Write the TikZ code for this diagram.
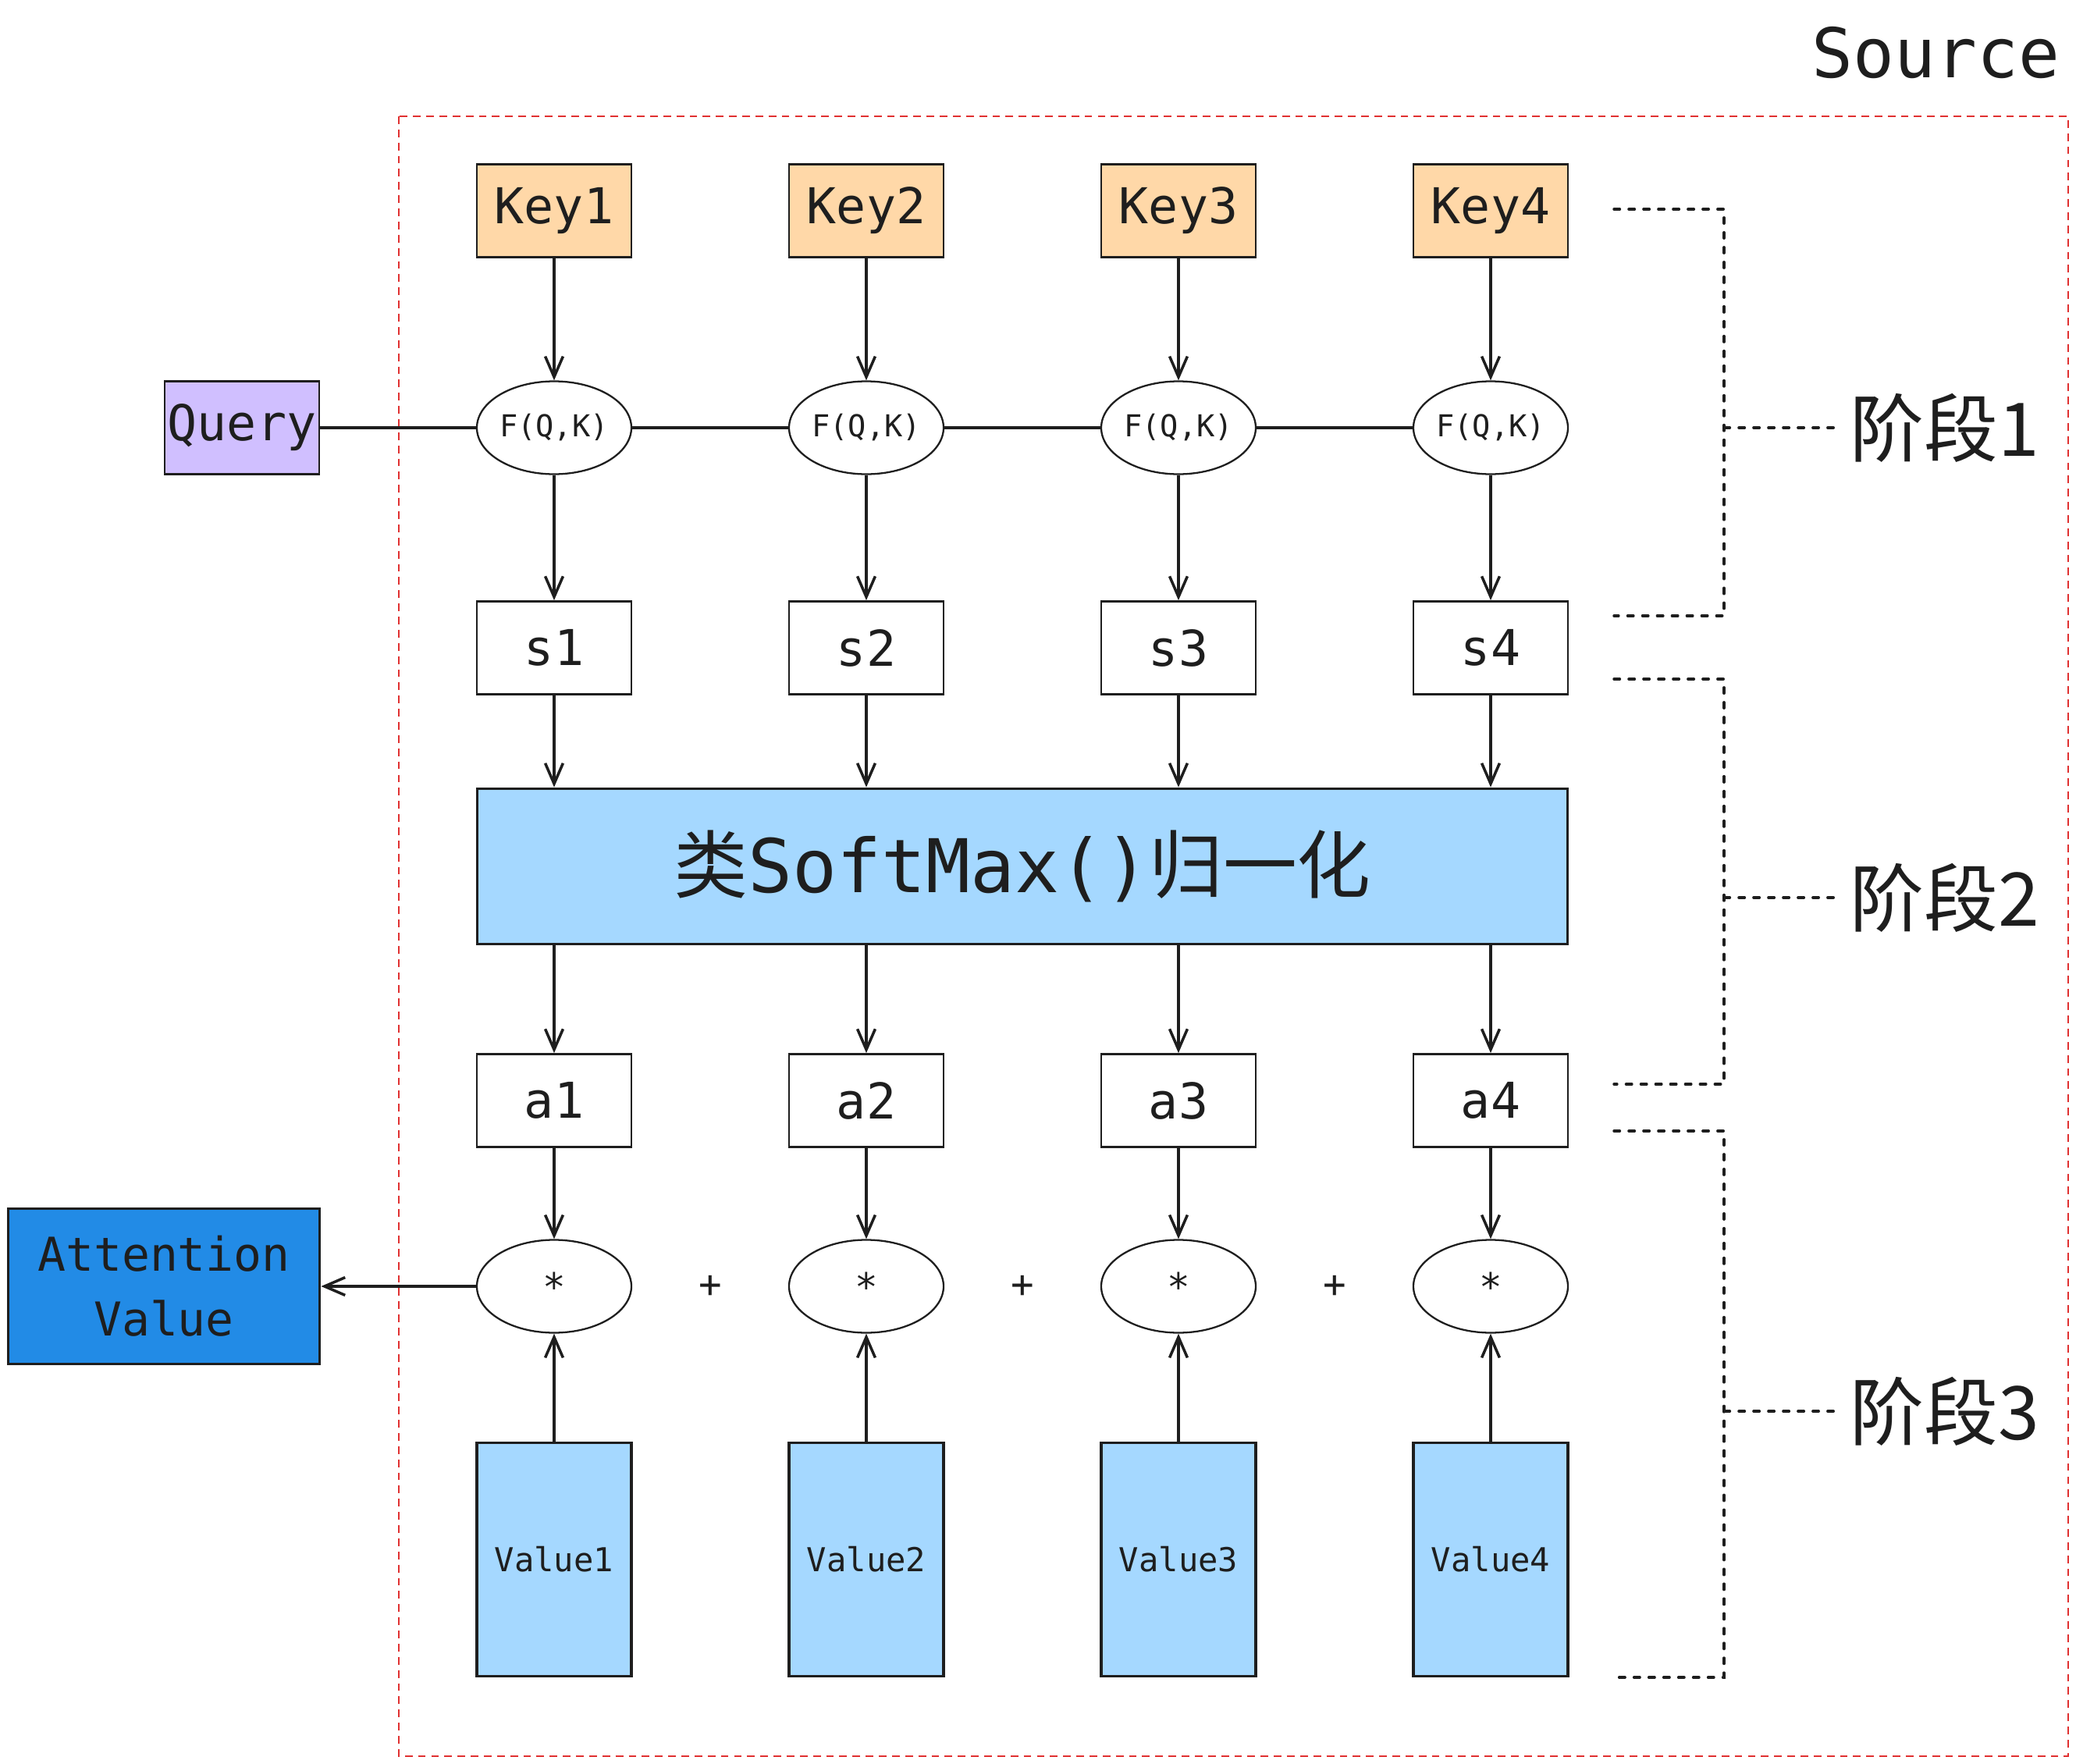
\documentclass[tikz,border=0pt]{standalone}
\usepackage{fontspec}
\usepackage{tikz}
\usepackage{xcolor}
\usetikzlibrary{positioning, arrows.meta}
\usetikzlibrary{shapes}

\setmainfont{DejaVu Sans Mono}
\newfontfamily\cjk{Noto Sans CJK SC}

\definecolor{ink}{HTML}{1E1E1E}
\definecolor{keyfill}{HTML}{FFD8A8}
\definecolor{queryfill}{HTML}{D0BFFF}
\definecolor{lightblue}{HTML}{A5D8FF}
\definecolor{darkblue}{HTML}{228BE6}
\definecolor{srcred}{HTML}{E03131}

\begin{document}
\begin{tikzpicture}[
            box/.style={rectangle, draw=ink, line width=0.8pt, minimum width=1.98cm, minimum height=1.19cm, inner sep=0pt, text=ink, font=\fontsize{18}{18}\selectfont},
            fqk/.style={ellipse, draw=ink, line width=0.65pt, minimum width=1.98cm, minimum height=1.19cm, inner sep=0pt, text=ink, font=\fontsize{11}{11}\selectfont},
            valbox/.style={rectangle, draw=ink, line width=1.1pt, fill=lightblue, minimum width=1.98cm, minimum height=2.99cm, inner sep=0pt, text=ink, font=\fontsize{12}{12}\selectfont},
            sign/.style={inner sep=0pt, text=ink, font=\fontsize{14}{14}\selectfont},
            arr/.style={draw=ink, line width=1pt, -{Straight Barb[length=7.5pt, width=6.5pt, line width=1pt]}},
            link/.style={draw=ink, line width=1pt},
            bracket/.style={draw=ink, line width=1pt, dash pattern=on 2.1pt off 3.3pt, line cap=round},
            stage/.style={anchor=west, inner sep=0pt, inner xsep=0.12cm, text=ink, font=\cjk\fontsize{27}{27}\selectfont}
        ]
            \useasboundingbox (0,0) rectangle (26.6,-22.6);

            \draw[srcred, line width=0.6pt, dash pattern=on 2.8pt off 2pt] (5.11,-1.49) rectangle (26.50,-22.50);
            \node[anchor=east, inner sep=0pt, text=ink, font=\fontsize{25}{25}\selectfont] (src) at (26.40,-0.68) {Source};

            \node[box, fill=keyfill] (k1) at (7.1, -2.70) {Key1};
            \node[box, fill=keyfill] (k2) at (11.1, -2.70) {Key2};
            \node[box, fill=keyfill] (k3) at (15.1, -2.70) {Key3};
            \node[box, fill=keyfill] (k4) at (19.1, -2.70) {Key4};

            \node[box, fill=queryfill] (query) at (3.10, -5.48) {Query};
            \node[fqk] (f1) at (7.1, -5.48) {F(Q,K)};
            \node[fqk] (f2) at (11.1, -5.48) {F(Q,K)};
            \node[fqk] (f3) at (15.1, -5.48) {F(Q,K)};
            \node[fqk] (f4) at (19.1, -5.48) {F(Q,K)};

            \node[box] (s1) at (7.1, -8.30) {s1};
            \node[box] (s2) at (11.1, -8.30) {s2};
            \node[box] (s3) at (15.1, -8.30) {s3};
            \node[box] (s4) at (19.1, -8.30) {s4};

            \node[box, fill=lightblue, line width=1.1pt, minimum width=13.97cm, minimum height=1.99cm, font=\fontsize{27}{27}\selectfont] (sm) at (13.10, -11.10) {{\cjk 类}SoftMax(){\cjk 归一化}};

            \node[box] (a1) at (7.1, -14.10) {a1};
            \node[box] (a2) at (11.1, -14.10) {a2};
            \node[box] (a3) at (15.1, -14.10) {a3};
            \node[box] (a4) at (19.1, -14.10) {a4};

            \node[fqk, font=\fontsize{14}{14}\selectfont] (mul1) at (7.1, -16.48) {*};
            \node[fqk, font=\fontsize{14}{14}\selectfont] (mul2) at (11.1, -16.48) {*};
            \node[fqk, font=\fontsize{14}{14}\selectfont] (mul3) at (15.1, -16.48) {*};
            \node[fqk, font=\fontsize{14}{14}\selectfont] (mul4) at (19.1, -16.48) {*};
            \node[sign] (plus1) at (9.1, -16.48) {+};
            \node[sign] (plus2) at (13.1, -16.48) {+};
            \node[sign] (plus3) at (17.1, -16.48) {+};

            \node[box, fill=darkblue, line width=1.1pt, minimum width=3.99cm, minimum height=1.99cm, align=center, font=\fontsize{17}{23.6}\selectfont] (att) at (2.10, -16.48) {Attention\\Value};

            \node[valbox] (v1) at (7.1, -19.98) {Value1};
            \node[valbox] (v2) at (11.1, -19.98) {Value2};
            \node[valbox] (v3) at (15.1, -19.98) {Value3};
            \node[valbox] (v4) at (19.1, -19.98) {Value4};

            \draw[arr] (k1) -- (f1);
            \draw[arr] (k2) -- (f2);
            \draw[arr] (k3) -- (f3);
            \draw[arr] (k4) -- (f4);

            \draw[link] (query) -- (f1);
            \draw[link] (f1) -- (f2);
            \draw[link] (f2) -- (f3);
            \draw[link] (f3) -- (f4);

            \draw[arr] (f1) -- (s1);
            \draw[arr] (f2) -- (s2);
            \draw[arr] (f3) -- (s3);
            \draw[arr] (f4) -- (s4);

            \draw[arr] (s1) -- (s1 |- sm.north);
            \draw[arr] (s2) -- (s2 |- sm.north);
            \draw[arr] (s3) -- (s3 |- sm.north);
            \draw[arr] (s4) -- (s4 |- sm.north);

            \draw[arr] (a1 |- sm.south) -- (a1);
            \draw[arr] (a2 |- sm.south) -- (a2);
            \draw[arr] (a3 |- sm.south) -- (a3);
            \draw[arr] (a4 |- sm.south) -- (a4);

            \draw[arr] (a1) -- (mul1);
            \draw[arr] (a2) -- (mul2);
            \draw[arr] (a3) -- (mul3);
            \draw[arr] (a4) -- (mul4);

            \draw[arr] (v1) -- (mul1);
            \draw[arr] (v2) -- (mul2);
            \draw[arr] (v3) -- (mul3);
            \draw[arr] (v4) -- (mul4);

            \draw[arr] (mul1) -- (att);

            \coordinate (top1) at (20.68, -2.68);
            \coordinate (mid1) at (22.09, -5.48);
            \coordinate (bot1) at (20.68, -7.89);
            \node[stage] (st1) at (23.58, -5.48) {阶段1};
            \draw[bracket] (top1) -| (mid1) |- (bot1);
            \draw[bracket] (mid1) -- (st1);

            \coordinate (top2) at (20.68, -8.70);
            \coordinate (mid2) at (22.09, -11.50);
            \coordinate (bot2) at (20.68, -13.89);
            \node[stage] (st2) at (23.58, -11.50) {阶段2};
            \draw[bracket] (top2) -| (mid2) |- (bot2);
            \draw[bracket] (mid2) -- (st2);

            \coordinate (top3) at (20.68, -14.49);
            \coordinate (mid3) at (22.09, -18.08);
            \coordinate (bot3) at (20.68, -21.49);
            \node[stage] (st3) at (23.58, -18.08) {阶段3};
            \draw[bracket] (top3) -| (mid3) |- (bot3);
            \draw[bracket] (mid3) -- (st3);
        \end{tikzpicture}
\end{document}
